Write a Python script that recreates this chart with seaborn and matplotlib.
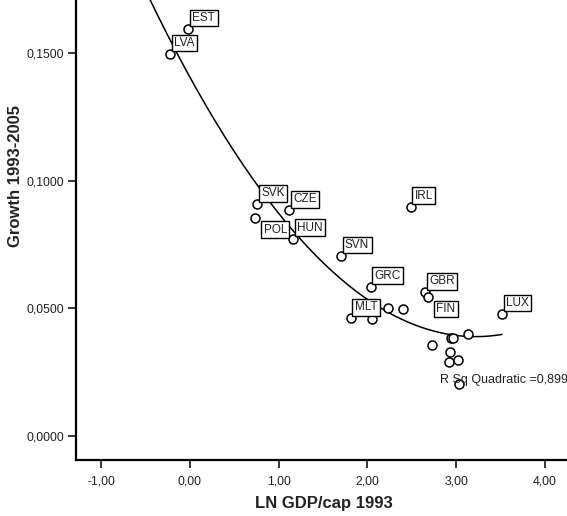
import numpy as np
import pandas as pd
import matplotlib
matplotlib.use("Agg")
import matplotlib.pyplot as plt
import seaborn as sns

# ---- data ----
ln_gdp = [-0.017, -0.22, 0.759, 1.116, 0.733, 1.165, 1.702, 2.488, 2.037,
          2.649, 2.680, 1.812, 2.048, 2.229, 2.401, 3.517, 3.138, 2.943,
          2.968, 2.728, 2.931, 2.923, 3.018, 3.033]
growth = [0.1594, 0.1496, 0.0908, 0.0884, 0.0855, 0.0773, 0.0705, 0.0898,
          0.0585, 0.0563, 0.0544, 0.0461, 0.0457, 0.0500, 0.0497, 0.0478,
          0.0400, 0.0383, 0.0383, 0.0358, 0.0328, 0.0291, 0.0298, 0.0204]
labels = ["EST", "LVA", "SVK", "CZE", "POL", "HUN", "SVN", "IRL", "GRC",
          "GBR", "FIN", "MLT", "", "", "", "LUX", "", "", "", "", "", "", "", ""]
below_labels = ["POL", "FIN"]          # labels placed below-right of the point

# quadratic fit (y = a + b x + c x^2) as drawn in the reference
fit_coef = [0.1405, -0.0631, 0.0098]
fit_x_range = [-0.6, 3.517]
r_sq_text = "R Sq Quadratic =0,899"

x_ticks = [-1, 0, 1, 2, 3, 4]
x_tick_labels = ["-1,00", "0,00", "1,00", "2,00", "3,00", "4,00"]
y_ticks = [0.0, 0.05, 0.10, 0.15]
y_tick_labels = ["0,0000", "0,0500", "0,1000", "0,1500"]

df = pd.DataFrame({"x": ln_gdp, "y": growth, "label": labels})

xs = np.linspace(fit_x_range[0], fit_x_range[1], 200)
fit_df = pd.DataFrame({"x": xs, "y": fit_coef[0] + fit_coef[1] * xs + fit_coef[2] * xs ** 2})

# ---- styling ----
sns.set_theme(style="ticks")
plt.rcParams["font.family"] = ["Liberation Sans", "DejaVu Sans"]

W, H, DPI = 567, 516, 100
fig = plt.figure(figsize=(W / DPI, H / DPI), dpi=DPI)
ax = fig.add_axes([76 / W, (H - 460) / H, 1 - 76 / W, 460 / H])

sns.lineplot(data=fit_df, x="x", y="y", ax=ax, color="black", lw=1.1,
             sort=False, estimator=None)
sns.scatterplot(data=df, x="x", y="y", ax=ax, s=42, facecolor="white",
                edgecolor="black", linewidth=1.1, zorder=3)

px2pt = 72 / DPI
for _, r in df.iterrows():
    if not r["label"]:
        continue
    if r["label"] in below_labels:
        off = (8.5 * px2pt, -6.0 * px2pt)
        va = "top"
    else:
        off = (4.0 * px2pt, 5.0 * px2pt)
        va = "bottom"
    ax.annotate(r["label"], (r["x"], r["y"]), xytext=off, textcoords="offset points",
                ha="left", va=va, fontsize=8.5, color="#222222", zorder=4,
                bbox=dict(boxstyle="square,pad=0.2", fc="white", ec="black", lw=1.0))

ax.text(2.82, 0.0219, r_sq_text, fontsize=9, color="#222222", va="center",
        ha="left", clip_on=False)

ax.set_xlim(-1.285, 4.25)
ax.set_ylim(-0.0094, 0.1708)
ax.set_xticks(x_ticks)
ax.set_xticklabels(x_tick_labels, fontsize=8.8, color="#222222")
ax.set_yticks(y_ticks)
ax.set_yticklabels(y_tick_labels, fontsize=8.8, color="#222222")
ax.tick_params(axis="both", length=6, width=1.1, color="black")
ax.tick_params(axis="y", pad=2.5)
ax.tick_params(axis="x", pad=5)

for s in ["top", "right"]:
    ax.spines[s].set_visible(False)
for s in ["left", "bottom"]:
    ax.spines[s].set_linewidth(1.6)
    ax.spines[s].set_color("black")

ax.set_xlabel("LN GDP/cap 1993", fontsize=12, fontweight="bold", color="#222222")
ax.set_ylabel("Growth 1993-2005", fontsize=12, fontweight="bold", color="#222222")
ax.xaxis.set_label_coords((324 - 76) / 491, -(496 - 460) / 460)
ax.yaxis.set_label_coords(-(76 - 23) / 491, (460 - 176) / 460)

fig.savefig("out.png", dpi=DPI)
